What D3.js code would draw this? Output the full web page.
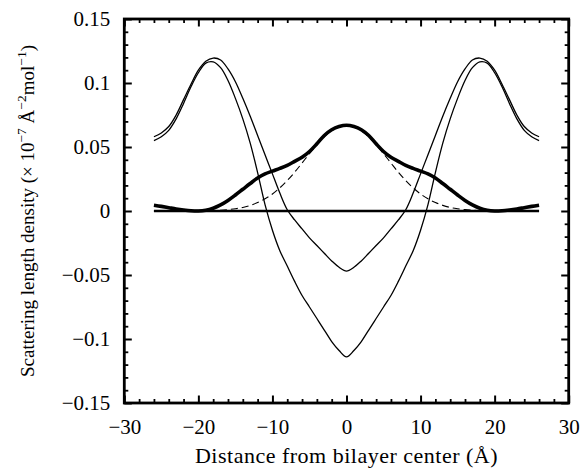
<!DOCTYPE html>
<html>
<head>
<meta charset="utf-8">
<script src="https://cdn.jsdelivr.net/npm/d3@7"></script>
<style>
  html, body { margin: 0; padding: 0; background: #fff; }
  svg { display: block; }
  text { font-family: "Liberation Serif", "Times New Roman", serif; fill: #000; }
</style>
</head>
<body>
<svg id="chart" width="582" height="469"></svg>
<script>
// ---- data ----
const positions = [-26,-25,-24,-23,-22,-21,-20,-19,-18,-17,-16,-15,-14,-13,-12,-11,-10,-9,-8,-7,-6,-5,-4,-3,-2,-1,0,
  1,2,3,4,5,6,7,8,9,10,11,12,13,14,15,16,17,18,19,20,21,22,23,24,25,26];

const totalProfile = [0.0045,0.0036,0.0026,0.0016,0.0008,0.0002,0.0000,0.0006,0.0022,0.0048,0.0083,0.0125,0.0170,0.0215,0.0258,0.0290,0.0312,0.0333,0.0357,0.0388,0.0420,0.0465,0.0525,0.0590,0.0635,0.0660,0.0670,
  0.0660,0.0635,0.0590,0.0525,0.0465,0.0420,0.0388,0.0357,0.0333,0.0312,0.0290,0.0258,0.0215,0.0170,0.0125,0.0083,0.0048,0.0022,0.0006,0.0000,0.0002,0.0008,0.0016,0.0026,0.0036,0.0045];

const gaussProfile = [0,0,0,0,0,0,0.0001,0.0002,0.0003,0.0006,0.0011,0.0018,0.0028,0.0044,0.0066,0.0095,0.0133,0.0181,0.0238,0.0303,0.0375,0.0448,0.0517,0.0579,0.0627,0.0659,0.0670,
  0.0659,0.0627,0.0579,0.0517,0.0448,0.0375,0.0303,0.0238,0.0181,0.0133,0.0095,0.0066,0.0044,0.0028,0.0018,0.0011,0.0006,0.0003,0.0002,0.0001,0,0,0,0,0,0];

const deepProfile = [0.055,0.058,0.063,0.072,0.084,0.097,0.108,0.1155,0.1165,0.112,0.102,0.088,0.072,0.053,0.030,0.005,-0.015,-0.031,-0.043,-0.055,-0.066,-0.075,-0.084,-0.093,-0.102,-0.109,-0.114,
  -0.109,-0.102,-0.093,-0.084,-0.075,-0.066,-0.055,-0.043,-0.031,-0.015,0.005,0.030,0.053,0.072,0.088,0.102,0.112,0.1165,0.1155,0.108,0.097,0.084,0.072,0.063,0.058,0.055];

const shallowProfile = [0.058,0.061,0.066,0.075,0.087,0.099,0.110,0.117,0.1195,0.118,0.111,0.101,0.088,0.074,0.059,0.044,0.029,0.014,0.001,-0.007,-0.014,-0.021,-0.027,-0.033,-0.039,-0.044,-0.047,
  -0.044,-0.039,-0.033,-0.027,-0.021,-0.014,-0.007,0.001,0.014,0.029,0.044,0.059,0.074,0.088,0.101,0.111,0.118,0.1195,0.117,0.110,0.099,0.087,0.075,0.066,0.061,0.058];

const baselineX = [-26, 26];
const baselineY = [0, 0];

const xTickValues = [-30,-20,-10,0,10,20,30];
const xTickLabels = ["\u221230","\u221220","\u221210","0","10","20","30"];
const yTickValues = [-0.15,-0.1,-0.05,0,0.05,0.1,0.15];
const yTickLabels = ["\u22120.15","\u22120.1","\u22120.05","0","0.05","0.1","0.15"];
const xMinorValues = [-28,-26,-24,-22,-18,-16,-14,-12,-8,-6,-4,-2,2,4,6,8,12,14,16,18,22,24,26,28];
const yMinorValues = [-0.14,-0.13,-0.12,-0.11,-0.09,-0.08,-0.07,-0.06,-0.04,-0.03,-0.02,-0.01,0.01,0.02,0.03,0.04,0.06,0.07,0.08,0.09,0.11,0.12,0.13,0.14];

// ---- layout ----
const L = 124.3, R = 568.7, T = 19, B = 403;
const svg = d3.select("#chart");
const x = d3.scaleLinear().domain([-30, 30]).range([L, R]);
const y = d3.scaleLinear().domain([-0.15, 0.15]).range([B, T]);

const fmtX = v => xTickLabels[xTickValues.indexOf(v)];
const fmtY = v => yTickLabels[yTickValues.findIndex(t => Math.abs(t - v) < 1e-9)];

function styleAxis(g, w) {
  g.select(".domain").remove();
  g.selectAll(".tick line").attr("stroke", "#000").attr("stroke-width", w);
}

// bottom
svg.append("g").attr("transform", `translate(0,${B})`)
  .call(d3.axisBottom(x).tickValues(xTickValues).tickFormat(fmtX).tickSize(-7.5).tickPadding(16))
  .call(g => styleAxis(g, 2))
  .call(g => g.selectAll("text").attr("font-size", 21).style("font-family", "'Liberation Serif', serif"));
svg.append("g").attr("transform", `translate(0,${B})`)
  .call(d3.axisBottom(x).tickValues(xMinorValues).tickFormat("").tickSize(-4))
  .call(g => styleAxis(g, 1.8));
// top
svg.append("g").attr("transform", `translate(0,${T})`)
  .call(d3.axisTop(x).tickValues(xTickValues).tickFormat("").tickSize(-7.5))
  .call(g => styleAxis(g, 2));
svg.append("g").attr("transform", `translate(0,${T})`)
  .call(d3.axisTop(x).tickValues(xMinorValues).tickFormat("").tickSize(-4))
  .call(g => styleAxis(g, 1.8));
// left
svg.append("g").attr("transform", `translate(${L},0)`)
  .call(d3.axisLeft(y).tickValues(yTickValues).tickFormat(fmtY).tickSize(-7.5).tickPadding(14))
  .call(g => styleAxis(g, 2))
  .call(g => g.selectAll("text").attr("font-size", 21).style("font-family", "'Liberation Serif', serif"));
svg.append("g").attr("transform", `translate(${L},0)`)
  .call(d3.axisLeft(y).tickValues(yMinorValues).tickFormat("").tickSize(-4))
  .call(g => styleAxis(g, 1.8));
// right
svg.append("g").attr("transform", `translate(${R},0)`)
  .call(d3.axisRight(y).tickValues(yTickValues).tickFormat("").tickSize(-7.5))
  .call(g => styleAxis(g, 2));
svg.append("g").attr("transform", `translate(${R},0)`)
  .call(d3.axisRight(y).tickValues(yMinorValues).tickFormat("").tickSize(-4))
  .call(g => styleAxis(g, 1.8));

// frame
svg.append("rect").attr("x", L).attr("y", T).attr("width", R - L).attr("height", B - T)
  .attr("fill", "none").attr("stroke", "#000").attr("stroke-width", 2.8);

// ---- curves ----
const line = d3.line().x(d => x(d[0])).y(d => y(d[1])).curve(d3.curveCatmullRom.alpha(0.5));
const zip = vals => positions.map((p, i) => [p, vals[i]]);

svg.append("path").datum(baselineX.map((p, i) => [p, baselineY[i]]))
  .attr("d", d3.line().x(d => x(d[0])).y(d => y(d[1])))
  .attr("fill", "none").attr("stroke", "#000").attr("stroke-width", 2.3);

svg.append("path").datum(zip(gaussProfile)).attr("d", line)
  .attr("fill", "none").attr("stroke", "#000").attr("stroke-width", 1.1).attr("stroke-dasharray", "7,4");

svg.append("path").datum(zip(deepProfile)).attr("d", line)
  .attr("fill", "none").attr("stroke", "#000").attr("stroke-width", 1.3);
svg.append("path").datum(zip(shallowProfile)).attr("d", line)
  .attr("fill", "none").attr("stroke", "#000").attr("stroke-width", 1.3);

svg.append("path").datum(zip(totalProfile)).attr("d", line)
  .attr("fill", "none").attr("stroke", "#000").attr("stroke-width", 3.6).attr("stroke-linejoin", "round");

// ---- axis titles ----
svg.append("text").attr("x", (L + R) / 2).attr("y", 463).attr("text-anchor", "middle")
  .attr("font-size", 22).style("letter-spacing", "0.5px")
  .text("Distance from bilayer center (\u00C5)");

const yt = svg.append("text").attr("transform", `translate(34,${(T + B) / 2}) rotate(-90)`)
  .attr("text-anchor", "middle").attr("font-size", 19);
yt.append("tspan").text("Scattering length density (\u00D7 10");
yt.append("tspan").attr("dy", -8).attr("font-size", 13.5).text("\u22127");
yt.append("tspan").attr("dy", 8).text(" \u00C5");
yt.append("tspan").attr("dy", -8).attr("font-size", 13.5).text("\u22122");
yt.append("tspan").attr("dy", 8).text("mol");
yt.append("tspan").attr("dy", -8).attr("font-size", 13.5).text("\u22121");
yt.append("tspan").attr("dy", 8).text(")");
</script>
</body>
</html>
